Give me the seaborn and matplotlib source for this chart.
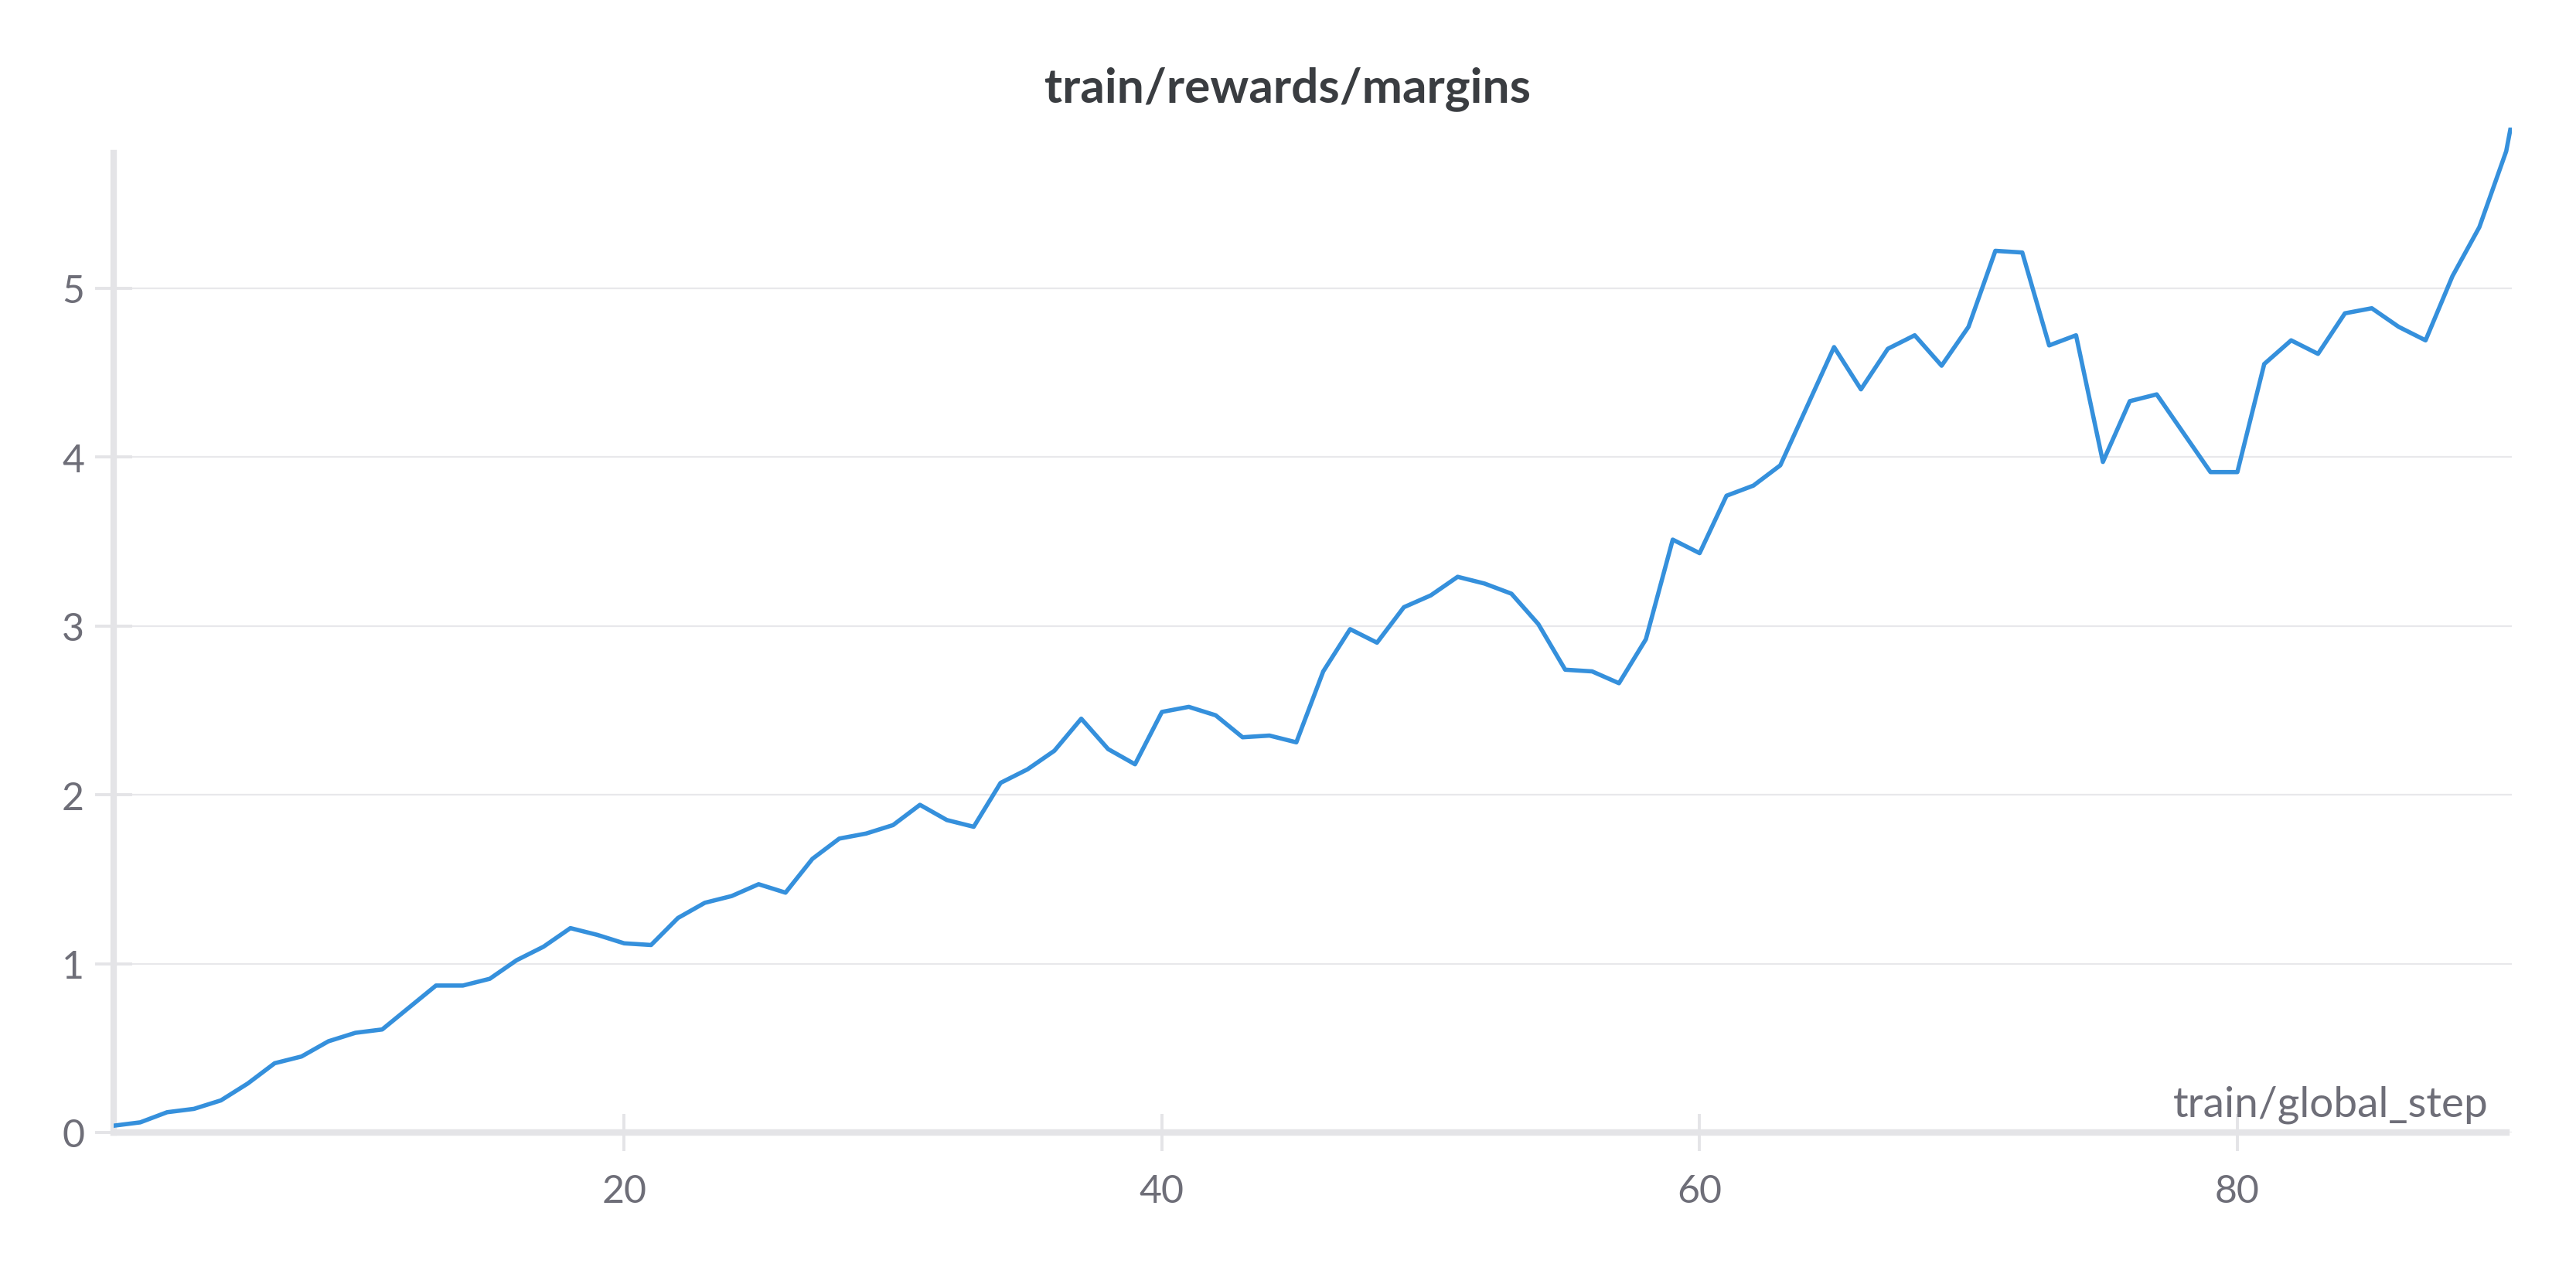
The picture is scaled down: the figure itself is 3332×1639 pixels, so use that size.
import matplotlib
matplotlib.use("Agg")
import matplotlib.pyplot as plt
import seaborn as sns
import pandas as pd

# data
steps = list(range(1, 92))
margins = [0.04, 0.06, 0.12, 0.14, 0.19, 0.29, 0.41, 0.45, 0.54, 0.59,
           0.61, 0.74, 0.87, 0.87, 0.91, 1.02, 1.10, 1.21, 1.17, 1.12,
           1.11, 1.27, 1.36, 1.40, 1.47, 1.42, 1.62, 1.74, 1.77, 1.82,
           1.94, 1.85, 1.81, 2.07, 2.15, 2.26, 2.45, 2.27, 2.18, 2.49,
           2.52, 2.47, 2.34, 2.35, 2.31, 2.73, 2.98, 2.90, 3.11, 3.18,
           3.29, 3.25, 3.19, 3.01, 2.74, 2.73, 2.66, 2.92, 3.51, 3.43,
           3.77, 3.83, 3.95, 4.30, 4.65, 4.40, 4.64, 4.72, 4.54, 4.77,
           5.22, 5.21, 4.66, 4.72, 3.97, 4.33, 4.37, 4.14, 3.91, 3.91,
           4.55, 4.69, 4.61, 4.85, 4.88, 4.77, 4.69, 5.07, 5.36, 5.81,
           6.65]
xticks = [20, 40, 60, 80]
yticks = [0, 1, 2, 3, 4, 5]
title = "train/rewards/margins"
xlabel = "train/global_step"

df = pd.DataFrame({"step": steps, "margin": margins})

sns.set_theme(style="white")
plt.rcParams["font.family"] = ["Lato", "DejaVu Sans"]

line_col = "#3590dc"
axis_col = "#e4e4e7"
grid_col = "#e8e8eb"
tick_col = "#6e6e78"

fig = plt.figure(figsize=(16.66, 8.2), dpi=200)
ax = fig.add_axes([0.044, 0.1061, 0.931, 0.7927])

sns.lineplot(data=df, x="step", y="margin", ax=ax, color=line_col,
             linewidth=2.0, zorder=3)

ax.set_xlim(1, 90.2)
ax.set_ylim(0, 5.95)
ax.set_xticks(xticks)
ax.set_yticks(yticks)
ax.set_xlabel("")
ax.set_ylabel("")

for s in ["top", "right"]:
    ax.spines[s].set_visible(False)
ax.spines["left"].set_bounds(0, 5.8)
ax.spines["bottom"].set_bounds(1, 90)
for s in ["left", "bottom"]:
    ax.spines[s].set_color(axis_col)
    ax.spines[s].set_linewidth(3)

ax.tick_params(axis="both", direction="inout", length=17, width=1.4,
               color=axis_col, labelcolor=tick_col, labelsize=18)
ax.tick_params(axis="x", bottom=True, pad=10.5)
ax.tick_params(axis="y", left=True, pad=5)

ax.yaxis.grid(True, color=grid_col, linewidth=0.8)
ax.xaxis.grid(False)
ax.set_axisbelow(True)

ax.annotate(xlabel, xy=(1, 0), xycoords="axes fraction", xytext=(-11, 7.6),
            textcoords="offset points", ha="right", va="baseline",
            fontsize=19.8, color=tick_col)

fig.text(0.5, 0.9195, title, ha="center", va="baseline", fontsize=22.4,
         fontweight="bold", color="#3a3d41")

fig.savefig("out.png", dpi=200)
